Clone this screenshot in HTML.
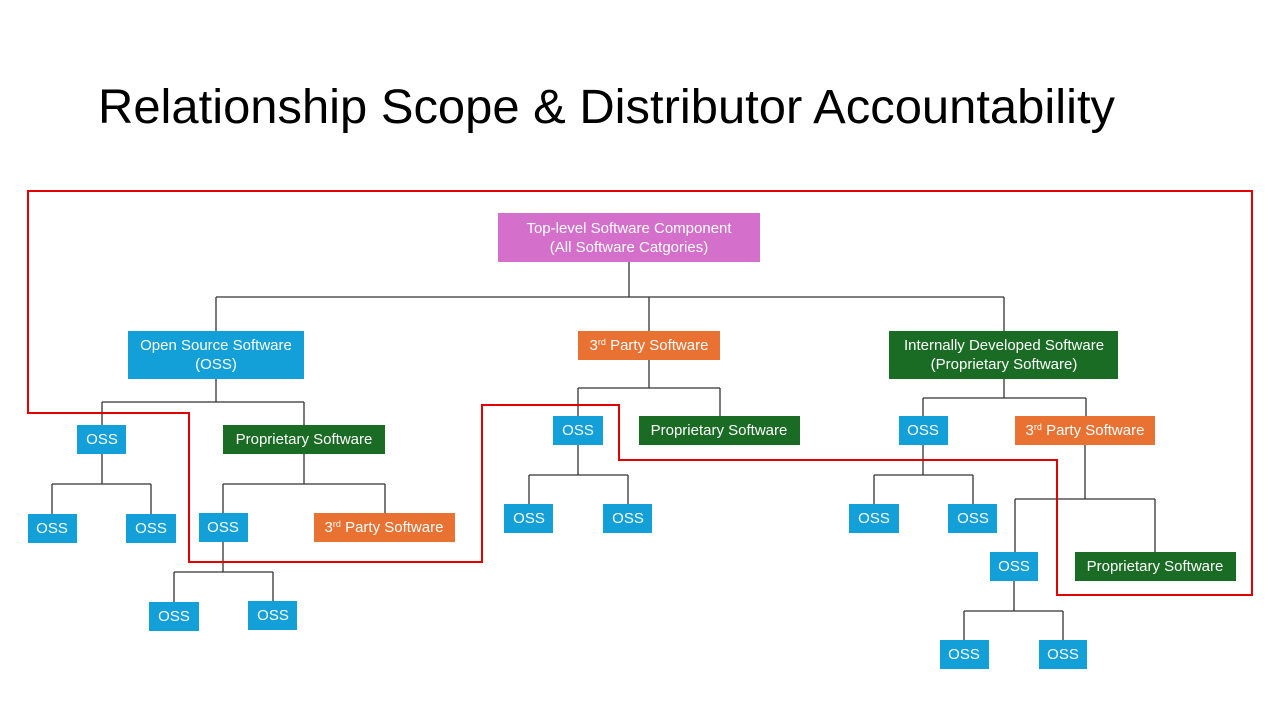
<!DOCTYPE html>
<html><head><meta charset="utf-8"><style>
html,body{margin:0;padding:0;background:#fff;}
svg{display:block;}
text{font-family:"Liberation Sans",sans-serif;}
.b{fill:#fff;font-size:15px;text-anchor:middle;}
</style></head><body>
<svg width="1280" height="720" viewBox="0 0 1280 720">
<text x="98" y="123" font-size="48" fill="#000" textLength="1017" lengthAdjust="spacingAndGlyphs">Relationship Scope &amp; Distributor Accountability</text>
<g stroke="#333" stroke-width="1.3" fill="none">
<path d="M629 262V297M216 297H1004M216 297V331M649 297V331M1004 297V331"/>
<path d="M216 379V402M102 402H304M102 402V425M304 402V425"/>
<path d="M102 454V484M52 484H151M52 484V514M151 484V514"/>
<path d="M304 454V484M223 484H385M223 484V513M385 484V513"/>
<path d="M223 541V572M174 572H273M174 572V602M273 572V601"/>
<path d="M649 360V388M578 388H720M578 388V416M720 388V416"/>
<path d="M578 445V475M529 475H628M529 475V504M628 475V504"/>
<path d="M1004 379V398M923 398H1086M923 398V416M1086 398V416"/>
<path d="M923 445V475M874 475H973M874 475V504M973 475V504"/>
<path d="M1085 445V499M1015 499H1155M1015 499V552M1155 499V552"/>
<path d="M1014 581V611M964 611H1063M964 611V640M1063 611V640"/>
</g>
<g>
<rect x="498" y="213" width="262" height="49" fill="#d46fcc"/>
<text class="b" x="629" y="233">Top-level Software Component</text>
<text class="b" x="629" y="252">(All Software Catgories)</text>
<rect x="128" y="331" width="176" height="48" fill="#139fd8"/>
<text class="b" x="216" y="350">Open Source Software</text>
<text class="b" x="216" y="369">(OSS)</text>
<rect x="578" y="331" width="142" height="29" fill="#e97132"/>
<text class="b" x="649" y="350">3<tspan font-size="9" dy="-5">rd</tspan><tspan dy="5"> Party Software</tspan></text>
<rect x="889" y="331" width="229" height="48" fill="#1a6b24"/>
<text class="b" x="1004" y="350">Internally Developed Software</text>
<text class="b" x="1004" y="369">(Proprietary Software)</text>

<rect x="77" y="425" width="49" height="29" fill="#139fd8"/><text class="b" x="102" y="444">OSS</text>
<rect x="223" y="425" width="162" height="29" fill="#1a6b24"/><text class="b" x="304" y="444">Proprietary Software</text>
<rect x="28" y="514" width="49" height="29" fill="#139fd8"/><text class="b" x="52" y="533">OSS</text>
<rect x="126" y="514" width="50" height="29" fill="#139fd8"/><text class="b" x="151" y="533">OSS</text>
<rect x="199" y="513" width="49" height="29" fill="#139fd8"/><text class="b" x="223" y="532">OSS</text>
<rect x="314" y="513" width="141" height="29" fill="#e97132"/>
<text class="b" x="384" y="532">3<tspan font-size="9" dy="-5">rd</tspan><tspan dy="5"> Party Software</tspan></text>
<rect x="149" y="602" width="50" height="29" fill="#139fd8"/><text class="b" x="174" y="621">OSS</text>
<rect x="248" y="601" width="49" height="29" fill="#139fd8"/><text class="b" x="273" y="620">OSS</text>

<rect x="553" y="416" width="50" height="29" fill="#139fd8"/><text class="b" x="578" y="435">OSS</text>
<rect x="639" y="416" width="161" height="29" fill="#1a6b24"/><text class="b" x="719" y="435">Proprietary Software</text>
<rect x="504" y="504" width="49" height="29" fill="#139fd8"/><text class="b" x="529" y="523">OSS</text>
<rect x="603" y="504" width="49" height="29" fill="#139fd8"/><text class="b" x="628" y="523">OSS</text>

<rect x="899" y="416" width="49" height="29" fill="#139fd8"/><text class="b" x="923" y="435">OSS</text>
<rect x="1015" y="416" width="140" height="29" fill="#e97132"/>
<text class="b" x="1085" y="435">3<tspan font-size="9" dy="-5">rd</tspan><tspan dy="5"> Party Software</tspan></text>
<rect x="849" y="504" width="50" height="29" fill="#139fd8"/><text class="b" x="874" y="523">OSS</text>
<rect x="948" y="504" width="49" height="29" fill="#139fd8"/><text class="b" x="973" y="523">OSS</text>
<rect x="990" y="552" width="48" height="29" fill="#139fd8"/><text class="b" x="1014" y="571">OSS</text>
<rect x="1075" y="552" width="161" height="29" fill="#1a6b24"/><text class="b" x="1155" y="571">Proprietary Software</text>
<rect x="940" y="640" width="49" height="29" fill="#139fd8"/><text class="b" x="964" y="659">OSS</text>
<rect x="1039" y="640" width="48" height="29" fill="#139fd8"/><text class="b" x="1063" y="659">OSS</text>
</g>
<path d="M28 191H1252V595H1057V460H619V405H482V562H189V413H28Z" fill="none" stroke="#e00000" stroke-width="2"/>
</svg>
</body></html>
